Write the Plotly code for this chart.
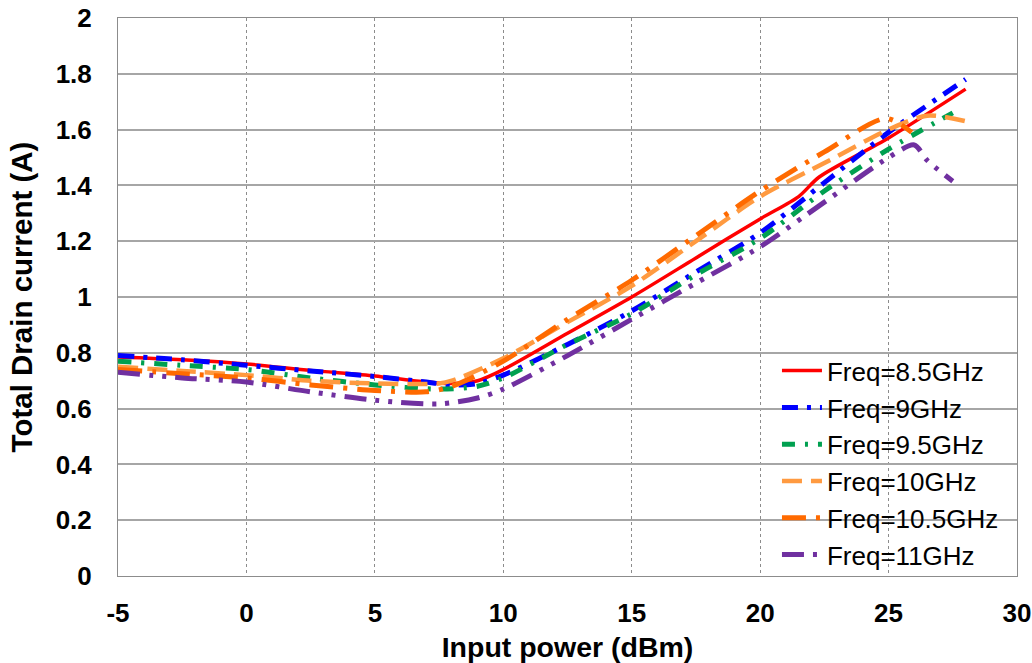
import plotly.graph_objects as go

# ---- data ----
names = ["Freq=8.5GHz", "Freq=9GHz", "Freq=9.5GHz", "Freq=10GHz", "Freq=10.5GHz", "Freq=11GHz"]

x_85 = [-5, -2.5, 0, 2.5, 5, 6.5, 8, 9, 10, 12.5, 15, 17.5, 20, 21.5, 22.3, 25, 28]
y_85 = [0.785, 0.775, 0.76, 0.737, 0.717, 0.70, 0.69, 0.70, 0.74, 0.87, 1.0, 1.14, 1.28, 1.36, 1.43, 1.57, 1.745]

x_9 = [-5, -2.5, 0, 2.5, 5, 7, 8, 9, 10, 12.5, 15, 17.5, 20, 22.5, 25, 28]
y_9 = [0.79, 0.775, 0.755, 0.735, 0.715, 0.695, 0.685, 0.69, 0.72, 0.83, 0.95, 1.09, 1.23, 1.41, 1.59, 1.78]

x_95 = [-5, -2.5, 0, 2.5, 5, 7.5, 9, 10, 12.5, 15, 17.5, 20, 22.5, 25, 27.5]
y_95 = [0.77, 0.755, 0.74, 0.71, 0.685, 0.67, 0.68, 0.71, 0.83, 0.94, 1.08, 1.21, 1.38, 1.53, 1.66]

x_10 = [-5, -2.5, 0, 2.5, 5, 7.5, 8, 10, 12.5, 15, 17.5, 20, 22.5, 25, 26.5, 28]
y_10 = [0.75, 0.735, 0.72, 0.70, 0.69, 0.69, 0.70, 0.78, 0.91, 1.04, 1.20, 1.36, 1.48, 1.60, 1.65, 1.63]

x_105 = [-5, -2.5, 0, 2.5, 5, 7, 8, 10, 12.5, 15, 17.5, 20, 22.5, 24.9, 25.9]
y_105 = [0.74, 0.725, 0.71, 0.685, 0.665, 0.66, 0.68, 0.77, 0.92, 1.06, 1.22, 1.38, 1.52, 1.64, 1.59]

x_11 = [-5, -2.5, 0, 2.5, 5, 7.5, 9, 10, 12.5, 15, 17.5, 20, 22.5, 25, 26, 26.5, 27.5]
y_11 = [0.73, 0.71, 0.695, 0.66, 0.63, 0.617, 0.638, 0.67, 0.79, 0.92, 1.05, 1.18, 1.34, 1.50, 1.545, 1.49, 1.415]

xs = [x_85, x_9, x_95, x_10, x_105, x_11]
ys = [y_85, y_9, y_95, y_10, y_105, y_11]

x_ticks = [-5, 0, 5, 10, 15, 20, 25, 30]
x_tick_labels = ["-5", "0", "5", "10", "15", "20", "25", "30"]
y_ticks = [0, 0.2, 0.4, 0.6, 0.8, 1, 1.2, 1.4, 1.6, 1.8, 2]
y_tick_labels = ["0", "0.2", "0.4", "0.6", "0.8", "1", "1.2", "1.4", "1.6", "1.8", "2"]

# ---- styles ----
colors = ["#FF0000", "#0000FF", "#00A050", "#FF9A40", "#FF6A00", "#7030A0"]
widths = [3.5, 5, 5, 4.5, 5, 5]
dashes = ["solid", "16px,9px,4px,9px", "13px,10px,3px,10px", "20px,9px",
          "24px,10px,4px,10px", "22px,9px,4px,9px,4px,9px"]

fig = go.Figure()
for i, (n, x, y, c, w, d) in enumerate(zip(names, xs, ys, colors, widths, dashes)):
    fig.add_trace(go.Scatter(x=x, y=y, name=n, mode="lines", legendgroup=f"g{i}",
                             line=dict(color=c, width=w, dash=d, shape="spline", smoothing=0.8)))

fig.update_layout(
    width=1032, height=663,
    margin=dict(l=118, r=15, t=18, b=87, autoexpand=False),
    paper_bgcolor="white", plot_bgcolor="white",
    font=dict(family="Liberation Sans, Arial, sans-serif", color="black"),
    legend=dict(x=0.733, y=0.41, xanchor="left", yanchor="top",
                bgcolor="rgba(0,0,0,0)", font=dict(size=26, color="black"),
                tracegroupgap=0, itemwidth=40),
    showlegend=True,
)
fig.update_xaxes(range=[-5, 30], tickvals=x_ticks, ticktext=x_tick_labels, automargin=False,
                 tickfont=dict(size=26, weight="bold"),
                 ticks="outside", ticklen=14, tickcolor="rgba(0,0,0,0)",
                 title=dict(text="Input power (dBm)", font=dict(size=28.5, weight="bold"), standoff=12),
                 showgrid=True, gridcolor="#8C8C8C", griddash="3px,3px", gridwidth=1,
                 showline=True, linecolor="#8C8C8C", linewidth=1, mirror=True,
                 zeroline=False)
fig.update_yaxes(range=[0, 2], tickvals=y_ticks, ticktext=y_tick_labels, automargin=False,
                 tickfont=dict(size=26, weight="bold"),
                 ticks="", ticklabelstandoff=20,
                 title=dict(text="Total Drain current (A)", font=dict(size=29.5, weight="bold"), standoff=14),
                 showgrid=True, gridcolor="#A6A6A6", gridwidth=1.5,
                 showline=True, linecolor="#8C8C8C", linewidth=1, mirror=True,
                 zeroline=False)

fig.write_html("out.html", config={"displayModeBar": False},
               post_script="document.body.style.margin='0px';")
